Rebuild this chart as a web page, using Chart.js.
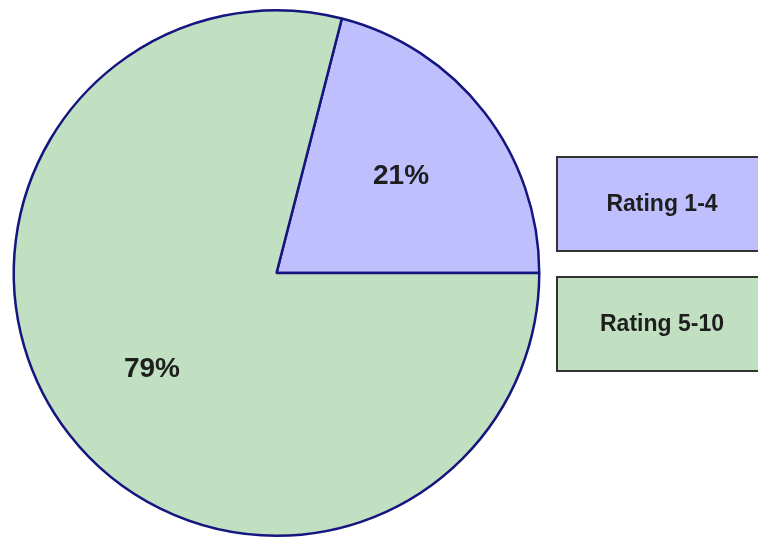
<!DOCTYPE html>
<html>
<head>
<meta charset="utf-8">
<script src="https://cdn.jsdelivr.net/npm/chart.js@4/dist/chart.umd.min.js"></script>
<style>
  html, body { margin: 0; padding: 0; background: #ffffff; }
  #wrap { width: 758px; height: 537px; position: relative; }
  canvas { display: block; }
</style>
</head>
<body>
<div id="wrap"><canvas id="pie" width="758" height="537"></canvas></div>
<script>
// Rating distribution
const categories = ['Rating 1-4', 'Rating 5-10'];
const shares = [21, 79];
const sliceColors = ['#bfbffe', '#c1dfc1'];

// Percent labels inside each slice
const sliceLabels = {
  id: 'sliceLabels',
  afterDatasetsDraw(chart) {
    const ctx = chart.ctx;
    const meta = chart.getDatasetMeta(0);
    const data = chart.data.datasets[0].data;
    const total = data.reduce((a, b) => a + b, 0);
    ctx.save();
    ctx.font = 'bold 28px "Liberation Sans", Arial, sans-serif';
    ctx.fillStyle = '#1e1e1e';
    ctx.textAlign = 'center';
    ctx.textBaseline = 'middle';
    meta.data.forEach((arc, i) => {
      const p = arc.getProps(['x', 'y', 'startAngle', 'endAngle', 'outerRadius'], true);
      const mid = (p.startAngle + p.endAngle) / 2;
      const r = p.outerRadius * 0.6;
      const txt = Math.round(data[i] / total * 100) + '%';
      ctx.fillText(txt, p.x + Math.cos(mid) * r, p.y + Math.sin(mid) * r);
    });
    ctx.restore();
  }
};

// Boxed legend on the right
const boxLegend = {
  id: 'boxLegend',
  afterDraw(chart) {
    const ctx = chart.ctx;
    const labels = chart.data.labels;
    const colors = chart.data.datasets[0].backgroundColor;
    const left = 557, width = 210, height = 94;
    const tops = [157, 277];
    ctx.save();
    labels.forEach((label, i) => {
      const top = tops[i];
      ctx.fillStyle = colors[i];
      ctx.fillRect(left, top, width, height);
      ctx.lineWidth = 2;
      ctx.strokeStyle = '#333333';
      ctx.strokeRect(left, top, width, height);
      ctx.font = 'bold 23px "Liberation Sans", Arial, sans-serif';
      ctx.fillStyle = '#1e1e1e';
      ctx.textAlign = 'center';
      ctx.textBaseline = 'middle';
      ctx.fillText(label, left + width / 2, top + height / 2 + 1);
    });
    ctx.restore();
  }
};

new Chart(document.getElementById('pie'), {
  type: 'pie',
  data: {
    labels: categories,
    datasets: [{
      data: shares,
      backgroundColor: sliceColors,
      borderColor: '#15157f',
      borderWidth: 2.5
    }]
  },
  options: {
    responsive: false,
    animation: false,
    devicePixelRatio: 1,
    // first slice ends at 3 o'clock
    rotation: 90 - shares[0] / (shares[0] + shares[1]) * 360,
    layout: { padding: { left: 0, right: 205, top: 9, bottom: 0 } },
    plugins: {
      legend: { display: false },
      tooltip: { enabled: false }
    }
  },
  plugins: [sliceLabels, boxLegend]
});
</script>
</body>
</html>
